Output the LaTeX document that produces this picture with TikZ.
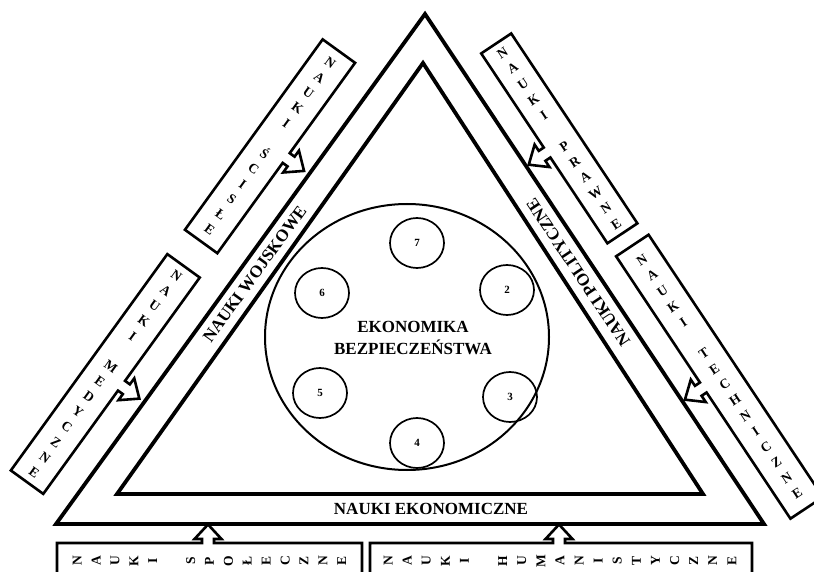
\documentclass[tikz,border=0pt]{standalone}
\usepackage{fontspec}
\setmainfont{Liberation Serif}
\usepackage{graphicx}
\usetikzlibrary{shapes.geometric}
\ExplSyntaxOn
\NewDocumentCommand\spaced{mm}{\tl_map_inline:nn{#2}{\makebox[#1]{\rotatebox[origin=c]{90}{\smash{##1}\vphantom{E}}}}}
\ExplSyntaxOff
% box with notched arrow: length, width, arrow x, stem length, total arrow length
\newcommand\arrowbox[5]{%
  \pgfmathsetmacro\bxL{#1/2}%
  \pgfmathsetmacro\bxW{#2/2}%
  \pgfmathsetmacro\bxS{\bxW+#4}%
  \pgfmathsetmacro\bxT{\bxW+#5}%
  \draw[boxline] (-\bxL,-\bxW) -- (\bxL,-\bxW) -- (\bxL,\bxW) -- ({#3+6},\bxW) -- ({#3+6},\bxS) -- ({#3+13.5},\bxS) -- (#3,\bxT) -- ({#3-13.5},\bxS) -- ({#3-6},\bxS) -- ({#3-6},\bxW) -- (-\bxL,\bxW) -- cycle;}
\begin{document}
\begin{tikzpicture}[x=1pt,y=1pt,
  tri/.style={line width=3.8pt, line join=miter},
  boxline/.style={line width=2.6pt, line join=miter},
  small/.style={draw, ellipse, line width=1.7pt, minimum width=54pt, minimum height=50pt, inner sep=0pt, font=\fontsize{11}{11}\selectfont\bfseries},
  sidelabel/.style={font=\fontsize{17}{17}\selectfont\bfseries, inner sep=0pt},
  boxtext/.style={font=\fontsize{13.5}{13.5}\selectfont\bfseries, inner sep=0pt}]
\useasboundingbox (0,0) rectangle (814,571);
\fill[white] (0,0) rectangle (814,571);
\clip (0,0) rectangle (814,571);
% triangles
\coordinate (A) at (425,557); \coordinate (B) at (56,47); \coordinate (C) at (764,47);
\coordinate (iA) at (423,508); \coordinate (iB) at (117,77); \coordinate (iC) at (703,77);
\draw[tri] (A) -- (B) -- (C) -- cycle;
\draw[tri] (iA) -- (iB) -- (iC) -- cycle;
% central ellipse
\node[draw, ellipse, line width=2pt, minimum width=284pt, minimum height=266pt] (core) at (407,234) {};
\node[font=\fontsize{17}{22}\selectfont\bfseries, align=center, inner sep=0pt] (title) at (413,233) {EKONOMIKA\\BEZPIECZEŃSTWA};
\node[small] (c7) at (417,328) {7};
\node[small] (c2) at (507,281) {2};
\node[small] (c6) at (322,278) {6};
\node[small] (c5) at (320,178) {5};
\node[small] (c3) at (510,174) {3};
\node[small] (c4) at (417,128) {4};
% side labels
\node[sidelabel, rotate=54.12] (woj) at (254.7,297) {NAUKI WOJSKOWE};
\node[sidelabel, rotate=123.61] (pol) at (578.3,298.3) {NAUKI POLITYCZNE};
\node[sidelabel] (eko) at (431,62) {NAUKI EKONOMICZNE};
% left boxes
\begin{scope}[shift={(270.0,424.7)}, rotate=234.12] \arrowbox{235}{40}{0}{6}{22} \end{scope}
\node[boxtext, rotate=234.12] (scisle) at (270.0,424.7) {\spaced{18.7pt}{NAUKI~ŚCISŁE}};
\begin{scope}[shift={(105.3,197.0)}, rotate=234.12] \arrowbox{267}{40}{0}{6}{22} \end{scope}
\node[boxtext, rotate=234.12] (med) at (105.3,197.0) {\spaced{18.7pt}{NAUKI~MEDYCZNE}};
% right boxes
\begin{scope}[shift={(559.3,432.6)}, rotate=123.61] \arrowbox{228}{36}{-5}{6}{22} \end{scope}
\node[boxtext, rotate=-56.39] (praw) at (559.3,432.6) {\spaced{18.7pt}{NAUKI~PRAWNE}};
\begin{scope}[shift={(719.5,194.3)}, rotate=123.61] \arrowbox{315}{39}{0}{6}{22} \end{scope}
\node[boxtext, rotate=-56.39] (tech) at (719.5,194.3) {\spaced{18.7pt}{NAUKI~TECHNICZNE}};
% bottom boxes
\begin{scope}[shift={(209.5,9)}] \arrowbox{305}{38}{-1.5}{4}{18.5} \end{scope}
\node[boxtext] (spol) at (209.5,10) {\spaced{18.9pt}{NAUKI~SPOŁECZNE}};
\begin{scope}[shift={(561,9)}] \arrowbox{382}{38}{-2}{4}{18.5} \end{scope}
\node[boxtext] (hum) at (560,10) {\spaced{19.1pt}{NAUKI~HUMANISTYCZNE}};
\end{tikzpicture}
\end{document}
